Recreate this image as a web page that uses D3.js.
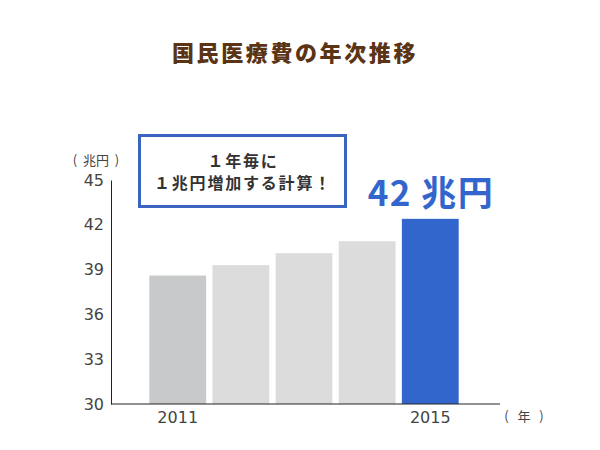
<!DOCTYPE html>
<html><head><meta charset="utf-8">
<script src="https://cdn.jsdelivr.net/npm/d3@7"></script>
<style>body{margin:0;background:#fff;}svg{display:block;font-family:"Noto Sans CJK JP","DejaVu Sans",sans-serif;}</style>
</head><body>
<svg id="c" width="600" height="450"></svg>
<script>
const years = ["2011","2012","2013","2014","2015"];
const values = [38.6, 39.3, 40.1, 40.9, 42.4];
const yTicks = [30, 33, 36, 39, 42, 45];
const xLabels = {"2011":"2011","2015":"2015"};
const colors = ["#c8c9ca","#dcdcdc","#dcdcdc","#dcdcdc","#3366cc"];

const svg = d3.select("#c");
const x = d3.scaleBand().domain(years).range([143, 465]).paddingInner(0.1).paddingOuter(0.1);
const y = d3.scaleLinear().domain([30, 45]).range([404, 180]);

svg.append("text").attr("x", 295).attr("y", 61).attr("text-anchor","middle")
  .attr("font-size", 22).attr("font-weight","900").attr("letter-spacing", 2.6)
  .attr("fill","#5a3414").text("国民医療費の年次推移");

svg.selectAll("rect.bar").data(years).enter().append("rect")
  .attr("x", d => x(d)).attr("width", x.bandwidth())
  .attr("y", (d,i) => y(values[i])).attr("height", (d,i) => y(30) - y(values[i]))
  .attr("fill", (d,i) => colors[i]);

// axes
const yAxis = svg.append("g").attr("transform","translate(111,0)")
  .call(d3.axisLeft(y).tickValues(yTicks).tickSize(0).tickPadding(7));
yAxis.select(".domain").attr("stroke","#222");
yAxis.selectAll("text").attr("font-family","'DejaVu Sans',sans-serif").attr("font-size",16).attr("fill","#444");

svg.append("line").attr("x1",111).attr("x2",500).attr("y1",404).attr("y2",404).attr("stroke","#222");

svg.selectAll("text.xl").data(years.filter(d => xLabels[d])).enter().append("text")
  .attr("x", d => x(d) + x.bandwidth()/2).attr("y", 423).attr("text-anchor","middle")
  .attr("font-family","'DejaVu Sans',sans-serif").attr("font-size",16).attr("fill","#444")
  .text(d => xLabels[d]);

svg.append("text").attr("x", 96).attr("y", 165).attr("text-anchor","middle")
  .attr("font-size", 13).attr("fill","#444").attr("xml:space","preserve").style("white-space","pre").text("(  兆円  )");
svg.append("text").attr("x", 524).attr("y", 421).attr("text-anchor","middle")
  .attr("font-size", 13).attr("fill","#444").style("white-space","pre").text("(   年   )");

// box
svg.append("rect").attr("x", 139.5).attr("y", 135.5).attr("width", 206).attr("height", 71)
  .attr("fill","#fff").attr("stroke","#3a64c0").attr("stroke-width",3);
svg.append("text").attr("x", 243).attr("y", 167).attr("text-anchor","middle")
  .attr("font-size", 16).attr("font-weight","bold").attr("letter-spacing", 1.8).attr("fill","#333").text("１年毎に");
svg.append("text").attr("x", 243).attr("y", 189).attr("text-anchor","middle")
  .attr("font-size", 16).attr("font-weight","bold").attr("letter-spacing", 1.8).attr("fill","#333").text("１兆円増加する計算！");

svg.append("text").attr("x", 431).attr("y", 206).attr("text-anchor","middle")
  .attr("font-size", 35).attr("font-weight","bold").attr("letter-spacing", 1.5).attr("fill","#3366cc").text("42 兆円");
</script>
</body></html>
